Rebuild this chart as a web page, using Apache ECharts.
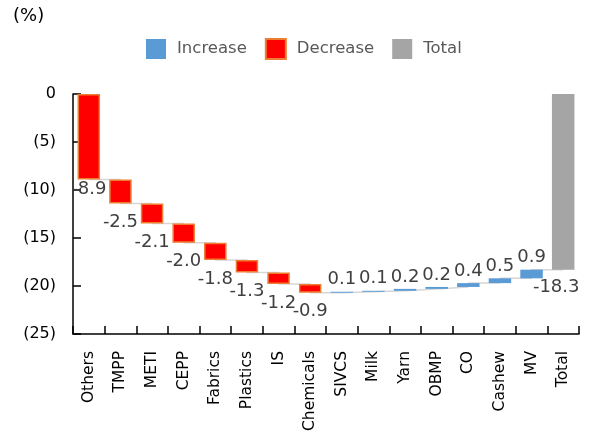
<!DOCTYPE html>
<html>
<head>
<meta charset="utf-8">
<script src="https://cdn.jsdelivr.net/npm/echarts@6/dist/echarts.min.js"></script>
<style>html,body{margin:0;padding:0;background:#fff}#c{width:592px;height:436px}</style>
</head>
<body>
<div id="c"></div>
<script>
var categories = ['Others','TMPP','METI','CEPP','Fabrics','Plastics','IS','Chemicals','SIVCS','Milk','Yarn','OBMP','CO','Cashew','MV','Total'];
var changes = [-8.9,-2.5,-2.1,-2.0,-1.8,-1.3,-1.2,-0.9,0.1,0.1,0.2,0.2,0.4,0.5,0.9];
var totalValue = -18.3;
var yTicks = [0,-5,-10,-15,-20,-25];

var FONT = 'DejaVu Sans';
var cum = [], base = [], dec = [], inc = [], tot = [];
var run = 0;
for (var i = 0; i < changes.length; i++) {
  var prev = run;
  run = Math.round((run + changes[i]) * 10) / 10;
  cum.push(run);
  if (changes[i] < 0) { base.push(prev); dec.push(changes[i]); inc.push('-'); }
  else { base.push(run); inc.push(-changes[i]); dec.push('-'); }
  tot.push('-');
}
base.push('-'); dec.push('-'); inc.push('-'); tot.push(totalValue);
cum.push(totalValue);

var decData = dec.map(function (v, i) {
  if (v === '-') return v;
  return i === 0 ? {value: v, label: {distance: 1}} : v;
});

var chart = echarts.init(document.getElementById('c'));
chart.setOption({
  animation: false,
  textStyle: {fontFamily: FONT},
  title: {text: '(%)', left: 8, top: 2, textStyle: {fontFamily: FONT, fontSize: 18, fontWeight: 'normal', color: '#000'}},
  legend: {
    data: ['Increase','Decrease','Total'],
    icon: 'rect',
    left: 141, top: 33, itemWidth: 20, itemHeight: 20, itemGap: 18,
    textStyle: {fontFamily: FONT, fontSize: 16.5, color: '#595959', padding: [0,0,0,6]}
  },
  grid: {left: 73, right: 13, top: 94, bottom: 102, containLabel: false},
  xAxis: {
    type: 'category', data: categories,
    axisLine: {show: true, onZero: false, lineStyle: {color: '#000', width: 1.5}},
    axisTick: {show: true, inside: true, length: 8, interval: 0, alignWithLabel: false, lineStyle: {color: '#000', width: 1.5}},
    axisLabel: {rotate: 90, interval: 0, margin: 17, fontFamily: FONT, fontSize: 15.5, color: '#000'}
  },
  yAxis: {
    type: 'value', min: -25, max: 0, interval: 5,
    axisLine: {show: true, lineStyle: {color: '#000', width: 1.5}},
    axisTick: {show: true, inside: true, length: 8, lineStyle: {color: '#000', width: 1.5}},
    splitLine: {show: false},
    axisLabel: {
      margin: 17, fontFamily: FONT, fontSize: 16, color: '#000', padding: [5,0,0,0],
      formatter: function (v) { return v === 0 ? '0' : '(' + Math.abs(v) + ')'; }
    }
  },
  series: [
    {
      name: 'connector', type: 'line', step: 'end', data: cum, symbol: 'none', silent: true, z: 1,
      lineStyle: {color: '#D6D6D6', width: 1.5}
    },
    {
      name: 'base', type: 'bar', stack: 'w', data: base, barWidth: 22.5, silent: true, z: 2,
      itemStyle: {color: 'transparent'}
    },
    {
      name: 'Decrease', type: 'bar', stack: 'w', data: decData, z: 3,
      itemStyle: {color: '#FF0000', borderColor: '#ED7D31', borderWidth: 1.5},
      label: {
        show: true, position: 'bottom', distance: 10, fontFamily: FONT, fontSize: 18, color: '#404040',
        formatter: function (p) { return changes[p.dataIndex].toFixed(1); }
      }
    },
    {
      name: 'Increase', type: 'bar', stack: 'w', data: inc, z: 3,
      itemStyle: {color: '#5B9BD5'},
      label: {
        show: true, position: 'top', distance: 3, fontFamily: FONT, fontSize: 18, color: '#404040',
        formatter: function (p) { return changes[p.dataIndex].toFixed(1); }
      }
    },
    {
      name: 'Total', type: 'bar', stack: 'w', data: tot, z: 3,
      itemStyle: {color: '#A5A5A5'},
      label: {
        show: true, position: 'bottom', distance: 9, offset: [-7, 0], fontFamily: FONT, fontSize: 18, color: '#404040',
        formatter: function () { return totalValue.toFixed(1); }
      }
    }
  ]
});
</script>
</body>
</html>
